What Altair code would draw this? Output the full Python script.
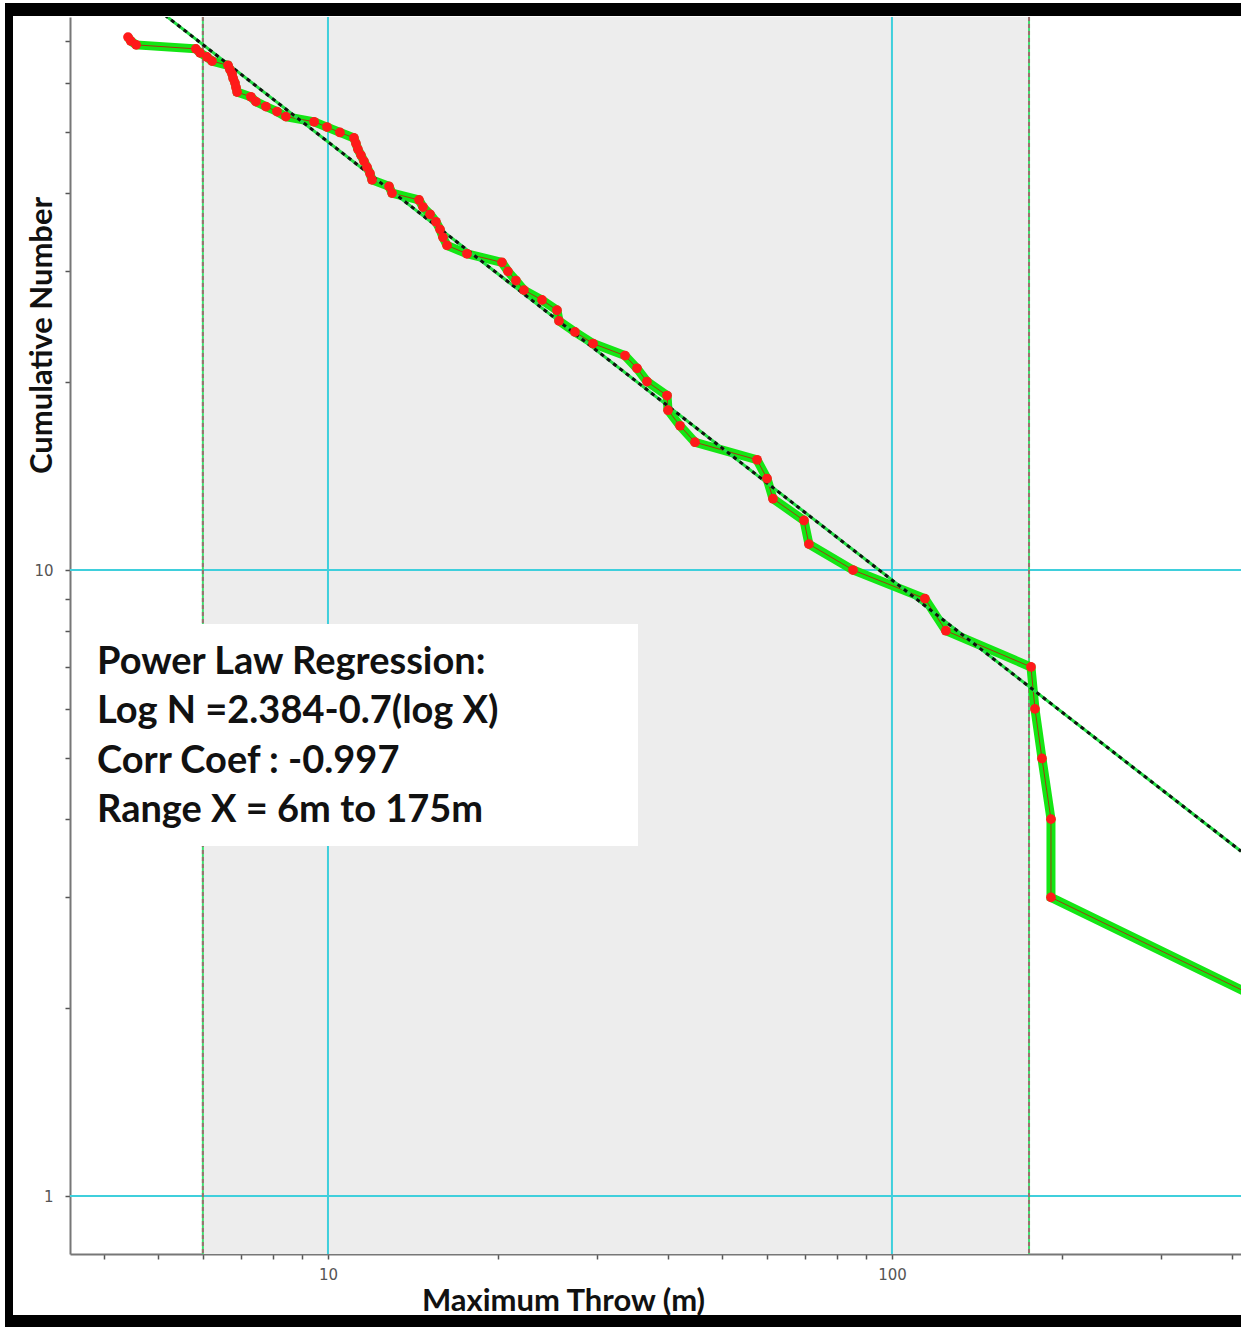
import math
import altair as alt
import pandas as pd

# ---------------- data ----------------
cum_number = list(range(71, 1, -1))   # cumulative number N (71 ... 2)
max_throw = [
    4.42, 4.47, 4.57, 5.83, 5.93, 6.10, 6.23, 6.65, 6.70, 6.76,
    6.79, 6.84, 6.87, 6.90, 7.30, 7.45, 7.76, 8.12, 8.42, 9.45,
    9.96, 10.50, 11.12, 11.21, 11.30, 11.44, 11.58, 11.73, 11.87, 11.97,
    12.83, 12.99, 14.50, 14.74, 15.17, 15.54, 15.80, 15.99, 16.26, 17.64,
    20.35, 20.85, 21.54, 22.26, 23.96, 25.47, 25.68, 27.41, 29.51, 33.63,
    35.31, 36.78, 39.92, 40.08, 42.09, 44.74, 57.64, 60.04, 61.52, 69.82,
    71.25, 85.29, 114.4, 124.6, 176.4, 179.3, 184.5, 191.4, 191.4, 483.5,
]
x_domain = [3.488, 415.8]
y_domain = [0.808, 76.45]
x_ticks = [4, 5, 6, 7, 8, 9, 10, 20, 30, 40, 50, 60, 70, 80, 90, 100, 200, 300, 400]
y_ticks = [1, 2, 3, 4, 5, 6, 7, 8, 9, 10, 20, 30, 40, 50, 60, 70]
grid_x = [10, 100]
grid_y = [1, 10]
range_x = [6, 175]
reg_intercept = 2.384
reg_slope = -0.7
reg_x = [3.488, 415.8]
box_lines = [
    "Power Law Regression:",
    "Log N =2.384-0.7(log X)",
    "Corr Coef : -0.997",
    "Range X = 6m to 175m",
]

# ---------------- chart ----------------
W, H = 1171, 1237
FONT = "Lato"

xs = alt.Scale(type="log", domain=x_domain, nice=False, zero=False)
ys = alt.Scale(type="log", domain=y_domain, nice=False, zero=False)

x_axis = alt.Axis(
    values=x_ticks,
    labelExpr="datum.value == 10 ? '10' : (datum.value == 100 ? '100' : '')",
    grid=False, tickSize=5, tickColor="#555555", tickWidth=1.5,
    domainColor="#777777", domainWidth=2,
    labelFont="DejaVu Sans", labelFontSize=15, labelColor="#555555", labelPadding=8,
    title="Maximum Throw (m)", titleFont=FONT, titleFontSize=31, titleFontWeight="bold",
    titleColor="#111111", titleX=493, titleY=47, titleBaseline="middle", titleAlign="center",
)
y_axis = alt.Axis(
    values=y_ticks,
    labelExpr="datum.value == 1 ? '1' : (datum.value == 10 ? '10' : '')",
    grid=False, tickSize=5, tickColor="#555555", tickWidth=1.5,
    domainColor="#777777", domainWidth=2,
    labelFont="DejaVu Sans", labelFontSize=15, labelColor="#555555", labelPadding=12,
    title="Cumulative Number", titleFont=FONT, titleFontSize=31, titleFontWeight="bold",
    titleColor="#111111", titleX=-28, titleY=318, titleBaseline="middle", titleAlign="center",
    titleAngle=270,
)

def X(field):
    return alt.X(field, type="quantitative", scale=xs, axis=x_axis)

def Y(field):
    return alt.Y(field, type="quantitative", scale=ys, axis=y_axis)

pts = pd.DataFrame({"throw": max_throw, "n": cum_number, "idx": list(range(len(max_throw)))})
shade = pd.DataFrame({"x0": [range_x[0]], "x1": [range_x[1]]})
vlines = pd.DataFrame({"x": range_x})
gx = pd.DataFrame({"x": grid_x})
gy = pd.DataFrame({"y": grid_y})
reg = pd.DataFrame({
    "x": reg_x,
    "n": [10 ** (reg_intercept + reg_slope * math.log10(v)) for v in reg_x],
})
one = alt.Data(values=[{"k": 1}])

shade_l = alt.Chart(shade).mark_rect(color="#ededed").encode(x=X("x0"), x2="x1")
gridx_l = alt.Chart(gx).mark_rule(color="#3fcfdc", strokeWidth=2).encode(x=X("x"))
gridy_l = alt.Chart(gy).mark_rule(color="#3fcfdc", strokeWidth=2).encode(y=Y("y"))
vl_base = alt.Chart(vlines).mark_rule(color="#3fe070", strokeWidth=2).encode(x=X("x"))
vl_dash = alt.Chart(vlines).mark_rule(color="#9a6f6f", strokeWidth=2, strokeDash=[4, 3]).encode(x=X("x"))

reg_base = alt.Chart(reg).mark_line(color="#22dd44", strokeWidth=3, clip=True).encode(x=X("x"), y=Y("n"))
reg_dash = alt.Chart(reg).mark_line(color="#111111", strokeWidth=3, strokeDash=[4, 4], clip=True).encode(
    x=X("x"), y=Y("n"))

data_line = alt.Chart(pts).mark_line(color="#14e614", strokeWidth=9, clip=True).encode(
    x=X("throw"), y=Y("n"), order="idx:Q")
data_core = alt.Chart(pts).mark_line(color="#a03a10", strokeWidth=1, clip=True).encode(
    x=X("throw"), y=Y("n"), order="idx:Q")
data_pts = alt.Chart(pts).mark_circle(color="#ff1a1a", opacity=1, size=95, clip=True).encode(
    x=X("throw"), y=Y("n"))

box = alt.Chart(one).mark_rect(color="white").encode(
    x=alt.value(3), x2=alt.value(568), y=alt.value(607), y2=alt.value(829))

baselines = [657, 706, 756, 805]
text_layers = []
for line, yb in zip(box_lines, baselines):
    text_layers.append(
        alt.Chart(one).mark_text(
            text=line, align="left", baseline="alphabetic", font=FONT,
            fontSize=38, fontWeight="bold", color="#111111",
        ).encode(x=alt.value(27), y=alt.value(yb))
    )

frame_left = alt.Chart(one).mark_rect(color="black", clip=False).encode(
    x=alt.value(-65), x2=alt.value(-57), y=alt.value(-14), y2=alt.value(1310))
frame_top = alt.Chart(one).mark_rect(color="black", clip=False).encode(
    x=alt.value(-65), x2=alt.value(W), y=alt.value(-14), y2=alt.value(-1))
frame_bottom = alt.Chart(one).mark_rect(color="black", clip=False).encode(
    x=alt.value(-65), x2=alt.value(W), y=alt.value(1298), y2=alt.value(1310))

chart = alt.layer(
    shade_l, gridx_l, gridy_l, vl_base, vl_dash,
    data_line, data_core, reg_base, reg_dash, data_pts,
    box, *text_layers,
    frame_left, frame_top, frame_bottom,
).properties(
    width=W, height=H,
    autosize=alt.AutoSizeParams(type="none"),
    padding={"left": 70, "top": 17, "right": 0, "bottom": 73},
    background="white",
).configure_view(strokeWidth=0)

chart.save("out.html", embed_options={"renderer": "svg", "actions": False})
